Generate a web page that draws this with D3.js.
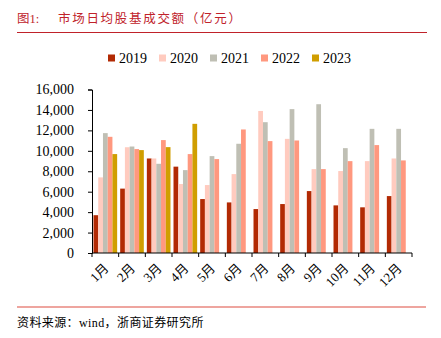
<!DOCTYPE html>
<html>
<head>
<meta charset="utf-8">
<script src="https://cdn.jsdelivr.net/npm/d3@7"></script>
<style>
  body { margin: 0; background: #fff; }
  svg { display: block; }
</style>
</head>
<body>
<svg id="chart" width="441" height="338"></svg>
<script>
// months on the x axis
var months = ['1月','2月','3月','4月','5月','6月','7月','8月','9月','10月','11月','12月'];
var years = ['2019','2020','2021','2022','2023'];
var yTicks = [0, 2000, 4000, 6000, 8000, 10000, 12000, 14000, 16000];

// daily average turnover, 亿元 (2023 only up to April)
var v2019 = [3700, 6300, 9250, 8450, 5280, 4950, 4300, 4790, 6060, 4660, 4470, 5570];
var v2020 = [7400, 10350, 9250, 6750, 6650, 7720, 13900, 11170, 8210, 8020, 8990, 9250];
var v2021 = [11730, 10420, 8730, 8110, 9480, 10690, 12800, 14080, 14560, 10260, 12150, 12150];
var v2022 = [11370, 10170, 11050, 9680, 9190, 12090, 10950, 11010, 8210, 8990, 10560, 9060];
var v2023 = [9680, 10070, 10360, 12640];

var colors = ['#B22A04', '#FFCBBF', '#BFBFB4', '#FF987F', '#D09E00'];

var seriesValues = [v2019, v2020, v2021, v2022, v2023];

var svg = d3.select('#chart');
var serif = '"Liberation Serif", "Times New Roman", serif';
var cjk = '"Liberation Serif", "Noto Sans CJK SC", serif';

// title + red rule
var titleG = svg.append('g')
    .attr('fill', '#C0222A')
    .style('font-family', '"Liberation Serif", "Noto Sans CJK SC", serif')
    .style('font-size', '12.5px');
titleG.append('text').attr('x', 17).attr('y', 23).text('图1:');
titleG.append('text').attr('x', 58).attr('y', 23)
    .style('letter-spacing', '1.7px')
    .text('市场日均股基成交额（亿元）');
svg.append('line')
    .attr('x1', 17).attr('x2', 427).attr('y1', 32.5).attr('y2', 32.5)
    .attr('stroke', '#C0222A').attr('stroke-width', 1);

// legend
var legend = svg.append('g');
years.forEach(function(yr, i) {
    var lx = 108 + i * 51;
    legend.append('rect')
        .attr('x', lx).attr('y', 54.5).attr('width', 7).attr('height', 7)
        .attr('fill', colors[i]);
    legend.append('text')
        .attr('x', lx + 11).attr('y', 63)
        .style('font-family', serif).style('font-size', '14px')
        .attr('fill', '#000')
        .text(yr);
});

var margin = {left: 92, right: 412, top: 89.5, bottom: 253};

var x = d3.scaleBand().domain(months).range([margin.left, margin.right]).padding(0);
var xInner = d3.scaleBand().domain(years).range([0, x.bandwidth()]).paddingInner(0).paddingOuter(0.32);
var y = d3.scaleLinear().domain([0, 16000]).range([margin.bottom, margin.top]);

// bars
years.forEach(function(yr, si) {
    var vals = seriesValues[si];
    svg.append('g').selectAll('rect')
        .data(vals)
        .enter().append('rect')
        .attr('x', function(d, i) { return x(months[i]) + xInner(yr); })
        .attr('width', xInner.bandwidth())
        .attr('y', function(d) { return y(d); })
        .attr('height', function(d) { return y(0) - y(d); })
        .attr('fill', colors[si]);
});

// y axis
var yAxis = svg.append('g')
    .attr('transform', 'translate(' + margin.left + ',0)')
    .call(d3.axisLeft(y).tickValues(yTicks).tickSize(4).tickPadding(14).tickFormat(d3.format(',')));
yAxis.select('.domain').attr('stroke', '#000');
yAxis.selectAll('.tick line').attr('stroke', '#000');
yAxis.selectAll('text')
    .style('font-family', serif).style('font-size', '14px').attr('fill', '#000');

// x axis, ticks on band boundaries
var bounds = months.map(function(m) { return x(m); }).concat([margin.right]);
var xAxisG = svg.append('g').attr('transform', 'translate(0,' + margin.bottom + ')');
xAxisG.append('line')
    .attr('x1', margin.left).attr('x2', margin.right)
    .attr('stroke', '#000');
xAxisG.selectAll('line.tk').data(bounds).enter().append('line')
    .attr('class', 'tk')
    .attr('x1', function(d) { return d; }).attr('x2', function(d) { return d; })
    .attr('y1', 0).attr('y2', 4)
    .attr('stroke', '#000');
xAxisG.selectAll('text').data(months).enter().append('text')
    .attr('transform', function(d) {
        return 'translate(' + (x(d) + x.bandwidth() / 2 + 4) + ',16) rotate(-45)';
    })
    .attr('text-anchor', 'end')
    .style('font-family', cjk).style('font-size', '13px')
    .attr('fill', '#000')
    .text(function(d) { return d; });

// source line
svg.append('line')
    .attr('x1', 17).attr('x2', 426).attr('y1', 307).attr('y2', 307)
    .attr('stroke', '#E8877F').attr('stroke-width', 1.5);
svg.append('text')
    .attr('x', 17).attr('y', 327)
    .style('font-family', '"Liberation Serif", "Noto Sans CJK SC", serif')
    .style('font-size', '12px')
    .style('letter-spacing', '0.4px')
    .attr('fill', '#000')
    .text('资料来源：wind，浙商证券研究所');
</script>
</body>
</html>
